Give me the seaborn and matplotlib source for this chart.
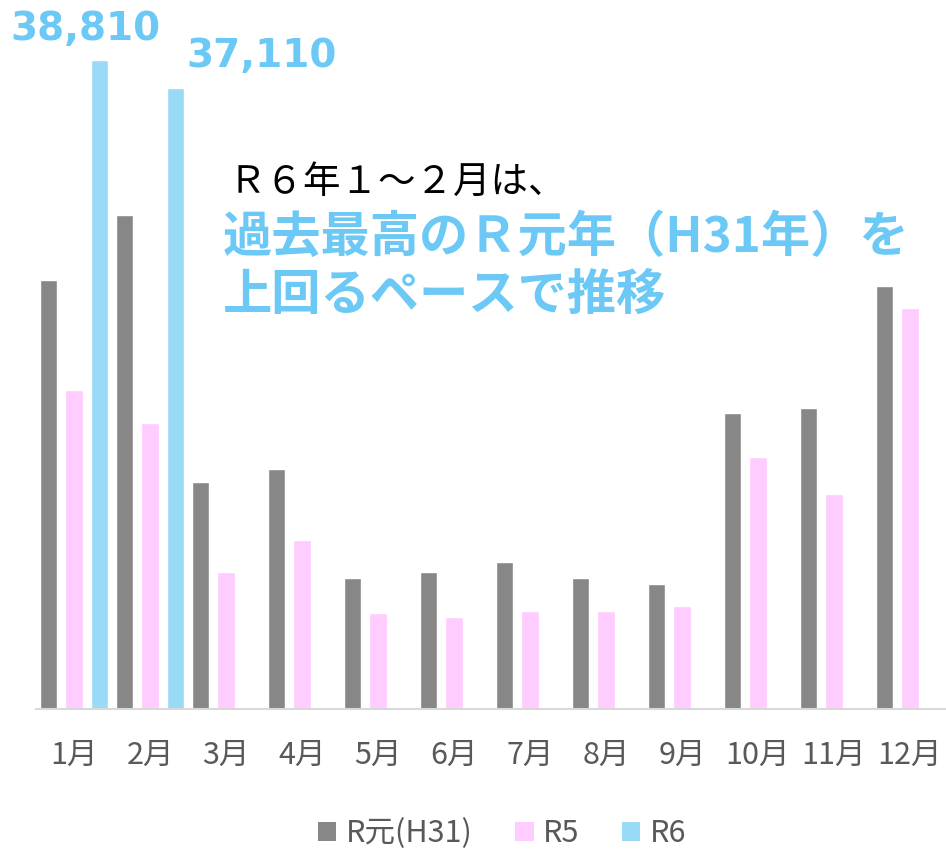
import matplotlib
matplotlib.use("Agg")
import matplotlib.pyplot as plt
from matplotlib.patches import Patch
import numpy as np
import pandas as pd
import seaborn as sns

# datos
meses = ['1月', '2月', '3月', '4月', '5月', '6月', '7月', '8月', '9月', '10月', '11月', '12月']
series = ['R元(H31)', 'R5', 'R6']
valores_r1 = [25650, 29540, 13580, 14350, 7830, 8190, 8790, 7830, 7480, 17700, 18000, 25300]
valores_r5 = [19080, 17100, 8190, 10100, 5740, 5500, 5860, 5860, 6160, 15070, 12860, 23980]
valores_r6 = [38810, 37110]
etiquetas_r6 = ['38,810', '37,110']

colores = ['#878787', '#FFCCFF', '#99DAF6']
azul_texto = '#6CC8F5'
gris_texto = '#595959'

filas = []
for m, v in zip(meses, valores_r1):
    filas.append((m, series[0], v))
for m, v in zip(meses, valores_r5):
    filas.append((m, series[1], v))
for m, v in zip(meses, valores_r6):
    filas.append((m, series[2], v))
tabla = pd.DataFrame(filas, columns=['mes', 'serie', 'valor'])

sns.set_theme(style="white")
plt.rcParams['font.family'] = ['Noto Sans CJK JP', 'DejaVu Sans']

fig = plt.figure(figsize=(9.46, 8.52), dpi=100)
ax = fig.add_axes([36 / 946, 143 / 852, 912 / 946, 669 / 852])

sns.barplot(data=tabla, x='mes', y='valor', hue='serie', order=meses,
            hue_order=series, palette=colores, width=0.99, gap=0.32,
            saturation=1, ax=ax, legend=False)

ax.set_xlim(-0.5, 11.5)
ax.set_ylim(0, 40000)
ax.set_xlabel('')
ax.set_ylabel('')
ax.set_yticks([])
for lado in ['top', 'right', 'left']:
    ax.spines[lado].set_visible(False)
ax.spines['bottom'].set_color('#D9D9D9')
ax.spines['bottom'].set_linewidth(1.5)
ax.tick_params(axis='x', length=0, pad=22, labelsize=22, labelcolor=gris_texto)

# etiquetas de R6
desplazamientos = [(-10, 22), (62, 23)]
slot = 0.99 / 3
for i, (v, txt) in enumerate(zip(valores_r6, etiquetas_r6)):
    ax.annotate(txt, xy=(i + slot, v), xytext=desplazamientos[i],
                textcoords='offset points', ha='center', va='center',
                fontsize=28, fontweight='bold', color=azul_texto,
                family=['DejaVu Sans'], annotation_clip=False)

# comentario
fig.text(228 / 946, 1 - 182 / 852, 'Ｒ６年１～２月は、', fontsize=27,
         color='black', ha='left', va='center')
fig.text(223 / 946, 1 - 237 / 852, '過去最高のＲ元年（H31年）を', fontsize=35.5,
         fontweight='bold', color=azul_texto, ha='left', va='center')
fig.text(223 / 946, 1 - 295 / 852, '上回るペースで推移', fontsize=35.5,
         fontweight='bold', color=azul_texto, ha='left', va='center')

# leyenda
manijas = [Patch(facecolor=c, edgecolor='none', label=s) for s, c in zip(series, colores)]
ley = fig.legend(handles=manijas, loc='center', bbox_to_anchor=(502 / 946, 1 - 834 / 852),
                 ncol=3, frameon=False, fontsize=22, handlelength=0.6, handleheight=0.6,
                 handletextpad=0.3, columnspacing=1.4)
for t in ley.get_texts():
    t.set_color(gris_texto)

fig.savefig('out.png', dpi=100)
